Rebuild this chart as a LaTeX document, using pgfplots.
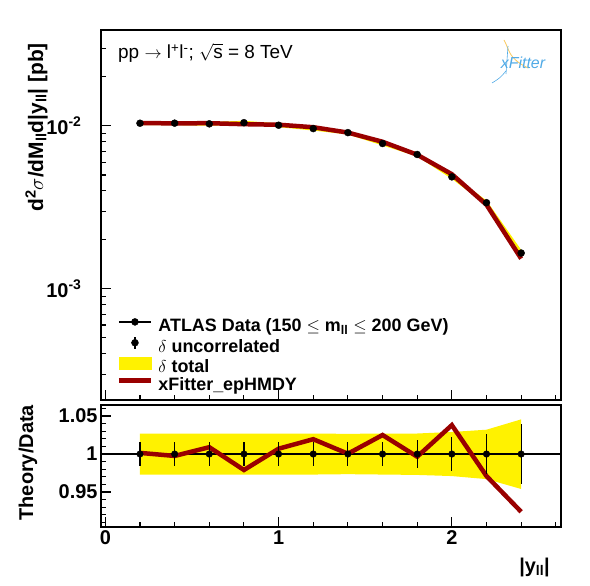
\documentclass[border=0pt]{standalone}
\usepackage{fontspec}
\setmainfont{Liberation Sans}
\usepackage{pgfplots}
\pgfplotsset{compat=1.18}
\definecolor{dred}{RGB}{153,0,0}
\definecolor{xfblue}{RGB}{80,170,230}
\definecolor{xforange}{RGB}{250,200,90}
\begin{document}
\begin{tikzpicture}
\path[use as bounding box] (0,0) rectangle (590bp,586bp);
\pgfplotsset{
  ratstyle/.style={
    scale only axis, width=460bp, anchor=south west,
    xmin=-0.025, xmax=2.63,
    tick align=inside, xtick pos=left, ytick pos=left,
    major tick length=10bp, minor tick length=5bp,
    axis line style={line width=1.5bp},
    every tick/.style={black, line width=1.1bp},
    tick label style={font=\bfseries\fontsize{20}{22}\selectfont},
    xtick={0,1,2},
    minor xtick={0.2,0.4,0.6,0.8,1.2,1.4,1.6,1.8,2.2,2.4,2.6},
  }
}
% ---------------- top panel ----------------
\begin{axis}[ratstyle,
  at={(101bp,186bp)}, height=370bp,
  xticklabels={},
  ymode=log, ymin=2.08e-4, ymax=0.0388,
  ytick={1e-3,1e-2},
  yticklabels={10\textsuperscript{-3},10\textsuperscript{-2}},
  yticklabel style={xshift=-16bp},
  minor ytick={3e-4,4e-4,5e-4,6e-4,7e-4,8e-4,9e-4,2e-3,3e-3,4e-3,5e-3,6e-3,7e-3,8e-3,9e-3,2e-2,3e-2},
  legend cell align=left,
  legend style={at={(axis description cs:0.0337,0.2216)}, anchor=north west,
    draw=none, fill=none, inner sep=0pt,
    font=\bfseries\fontsize{18}{19}\selectfont,
    nodes={text height=11.5bp, text depth=3.5bp, inner sep=1.25bp},
    /tikz/every even column/.append style={column sep=0bp},
    /tikz/every odd column/.append style={column sep=4bp}},
]
\addlegendimage{legend image code/.code={
  \draw[black, line width=1.2bp] (0bp,5.5bp) -- (32bp,5.5bp);
  \fill[black] (16bp,5.5bp) circle (3.5bp);}}
\addlegendentry{ATLAS Data (150 $\leq$ m\textsubscript{ll} $\leq$ 200 GeV)}
\addlegendimage{legend image code/.code={
  \draw[black, line width=1.2bp] (16bp,-0.5bp) -- (16bp,11.5bp);
  \fill[black] (16bp,5.5bp) circle (3.5bp);}}
\addlegendentry{$\delta$ uncorrelated}
\addlegendimage{legend image code/.code={
  \fill[yellow] (0bp,-0.5bp) rectangle (32bp,11.5bp);}}
\addlegendentry{$\delta$ total}
\addlegendimage{legend image code/.code={
  \draw[dred, line width=4.5bp] (0bp,5.5bp) -- (32bp,5.5bp);}}
\addlegendentry{xFitter\_epHMDY}
% total uncertainty band (data x (1 +/- total))
\addplot[fill=yellow, draw=none, forget plot] coordinates {
 (0.2,0.010671) (0.4,0.010681) (0.6,0.010578) (0.8,0.010753) (1.0,0.010373)
 (1.2,0.009890) (1.4,0.009341) (1.6,0.008011) (1.8,0.006860) (2.0,0.005011)
 (2.2,0.003488) (2.4,0.001736)
 (2.4,0.001584) (2.2,0.003268) (2.0,0.004729) (1.8,0.006496) (1.6,0.007589)
 (1.4,0.008859) (1.2,0.009370) (1.0,0.009827) (0.8,0.010187) (0.6,0.010022)
 (0.4,0.010119) (0.2,0.010109)
} -- cycle;
% theory
\addplot[dred, line width=4.5bp, forget plot] coordinates {
 (0.2,0.010406) (0.4,0.010374) (0.6,0.010393) (0.8,0.010250) (1.0,0.010171)
 (1.2,0.009818) (1.4,0.009104) (1.6,0.007995) (1.8,0.006657) (2.0,0.005055)
 (2.2,0.003282) (2.4,0.001534)
};
% data
\addplot[black, only marks, mark=*, mark size=3.5bp, forget plot,
  error bars/.cd, y dir=both, y explicit, error mark=none,
  error bar style={line width=1.2bp}] coordinates {
 (0.2,0.01039) +- (0,0.000161)
 (0.4,0.01040) +- (0,0.000161)
 (0.6,0.01030) +- (0,0.000160)
 (0.8,0.01047) +- (0,0.000162)
 (1.0,0.01010) +- (0,0.000157)
 (1.2,0.00963) +- (0,0.000149)
 (1.4,0.00910) +- (0,0.000141)
 (1.6,0.00780) +- (0,0.000125)
 (1.8,0.00668) +- (0,0.000120)
 (2.0,0.00487) +- (0,0.000107)
 (2.2,0.00338) +- (0,0.000088)
 (2.4,0.00166) +- (0,0.000066)
};
\end{axis}
% ---------------- ratio panel ----------------
\begin{axis}[ratstyle,
  at={(101bp,59bp)}, height=122bp,
  xticklabels={0,1,2},
  ymin=0.904, ymax=1.0645,
  ytick={0.95,1,1.05},
  yticklabels={0.95,1,1.05},
  minor ytick={0.91,0.92,0.93,0.94,0.96,0.97,0.98,0.99,1.01,1.02,1.03,1.04,1.06},
]
\addplot[fill=yellow, draw=none] coordinates {
 (0.2,1.027) (0.4,1.027) (0.6,1.027) (0.8,1.027) (1.0,1.027) (1.2,1.027)
 (1.4,1.0265) (1.6,1.027) (1.8,1.027) (2.0,1.029) (2.2,1.032) (2.4,1.0456)
 (2.4,0.954) (2.2,0.967) (2.0,0.971) (1.8,0.9725) (1.6,0.973) (1.4,0.9735)
 (1.2,0.973) (1.0,0.973) (0.8,0.973) (0.6,0.973) (0.4,0.973) (0.2,0.973)
} -- cycle;
\addplot[black, line width=1.1bp] coordinates {(-0.025,1) (2.63,1)};
\addplot[dred, line width=4.5bp] coordinates {
 (0.2,1.0015) (0.4,0.9975) (0.6,1.009) (0.8,0.979) (1.0,1.007) (1.2,1.0195)
 (1.4,1.0004) (1.6,1.025) (1.8,0.9965) (2.0,1.038) (2.2,0.971) (2.4,0.924)
};
\addplot[black, only marks, mark=*, mark size=3.3bp,
  error bars/.cd, y dir=both, y explicit, error mark=none,
  error bar style={line width=1.2bp}] coordinates {
 (0.2,1) +- (0,0.0155)
 (0.4,1) +- (0,0.0155)
 (0.6,1) +- (0,0.0155)
 (0.8,1) +- (0,0.0155)
 (1.0,1) +- (0,0.0155)
 (1.2,1) +- (0,0.0155)
 (1.4,1) +- (0,0.0155)
 (1.6,1) +- (0,0.016)
 (1.8,1) +- (0,0.018)
 (2.0,1) +- (0,0.022)
 (2.2,1) +- (0,0.026)
 (2.4,1) +- (0,0.0395)
};
\end{axis}
% ---------------- labels ----------------
\node[rotate=90, anchor=base east, inner sep=0pt,
  font=\bfseries\fontsize{21}{24}\selectfont] at (43bp,543bp)
  {d\textsuperscript{2}$\sigma$/dM\textsubscript{ll}d|y\textsubscript{ll}| [pb]};
\node[rotate=90, anchor=base east, inner sep=0pt,
  font=\bfseries\fontsize{20}{24}\selectfont] at (33bp,181bp) {Theory/Data};
\node[anchor=base east, inner sep=0pt,
  font=\bfseries\fontsize{20}{24}\selectfont] at (550bp,14bp) {|y\textsubscript{ll}|};
\node[anchor=base west, inner sep=0pt,
  font=\fontsize{19}{21}\selectfont] at (118bp,527.5bp)
  {pp $\rightarrow$ l\textsuperscript{+}l\textsuperscript{-}; $\sqrt{\mbox{s}}$ = 8 TeV};
% xFitter logo (text)
\draw[xforange, line width=0.8bp] (504bp,546bp) .. controls (510bp,535bp) and (508bp,528bp) .. (528bp,518bp);
\draw[xfblue, line width=0.6bp] (508bp,540bp) -- (506bp,512bp);
\draw[xfblue, line width=0.6bp] (506bp,515bp) .. controls (500bp,508bp) .. (492bp,503bp);
\node[anchor=center, inner sep=0pt, text=xfblue,
  font=\itshape\fontsize{16}{18}\selectfont] at (523bp,523bp) {xFitter};
\end{tikzpicture}
\end{document}
